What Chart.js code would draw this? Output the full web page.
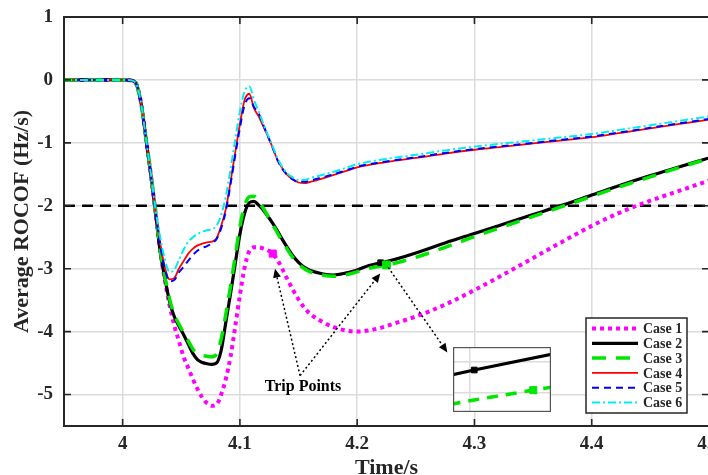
<!DOCTYPE html>
<html>
<head>
<meta charset="utf-8">
<script src="https://cdn.jsdelivr.net/npm/chart.js@4.4.1/dist/chart.umd.min.js"></script>
<style>
  html, body { margin: 0; padding: 0; background: #fff; overflow: hidden; width: 708px; height: 475px; }
  #wrap { position: relative; width: 740px; height: 482px; }
  #main { position: absolute; left: 0; top: 0; }
  #inset { position: absolute; left: 453px; top: 347px; }
</style>
</head>
<body>
<div id="wrap">
  <canvas id="main" width="740" height="482"></canvas>
  <canvas id="inset" width="98" height="65"></canvas>
</div>
<script>
// ---- data -------------------------------------------------------------
const time = [3.95, 4.000, 4.008, 4.012, 4.016, 4.020, 4.024, 4.028, 4.032, 4.036,
              4.040, 4.044, 4.048, 4.052, 4.056, 4.060, 4.064, 4.068, 4.072, 4.076,
              4.080, 4.084, 4.088, 4.092, 4.096, 4.100, 4.104, 4.108, 4.112, 4.116,
              4.120, 4.124, 4.128, 4.132, 4.136, 4.140, 4.145, 4.150, 4.155, 4.160,
              4.170, 4.180, 4.190, 4.200, 4.210, 4.220, 4.230, 4.250, 4.275, 4.300,
              4.325, 4.350, 4.375, 4.400, 4.425, 4.450, 4.475, 4.500];

const case1 = [0, 0, -0.01, -0.08, -0.4, -0.95, -1.5, -2.1, -2.72, -3.18,
               -3.58, -3.9, -4.15, -4.4, -4.58, -4.76, -4.92, -5.05, -5.14, -5.18,
               -5.16, -5.0, -4.75, -4.4, -3.92, -3.42, -2.98, -2.72, -2.66, -2.66,
               -2.68, -2.71, -2.76, -2.86, -3.0, -3.15, -3.33, -3.49, -3.62, -3.72,
               -3.84, -3.93, -3.98, -4.0, -3.98, -3.94, -3.88, -3.76, -3.57, -3.34,
               -3.09, -2.83, -2.57, -2.32, -2.1, -1.92, -1.76, -1.6];

const case2 = [0, 0, -0.01, -0.08, -0.4, -0.95, -1.5, -2.1, -2.72, -3.15,
               -3.52, -3.76, -3.91, -4.05, -4.2, -4.35, -4.45, -4.49, -4.51, -4.52,
               -4.5, -4.3, -3.85, -3.4, -2.92, -2.45, -2.12, -1.95, -1.93, -1.99,
               -2.07, -2.17, -2.28, -2.4, -2.53, -2.65, -2.79, -2.9, -2.98, -3.03,
               -3.08, -3.1, -3.07, -3.02, -2.95, -2.905, -2.863, -2.75, -2.59, -2.44,
               -2.29, -2.14, -1.99, -1.83, -1.67, -1.52, -1.38, -1.24];

const case3 = [0, 0, -0.01, -0.08, -0.4, -0.95, -1.5, -2.1, -2.7, -3.12,
               -3.48, -3.73, -3.88, -4.02, -4.15, -4.28, -4.35, -4.38, -4.39, -4.4,
               -4.36, -4.12, -3.72, -3.28, -2.8, -2.33, -2.0, -1.86, -1.85, -1.93,
               -2.04, -2.17, -2.3, -2.43, -2.56, -2.68, -2.82, -2.93, -3.0, -3.05,
               -3.1, -3.12, -3.1, -3.05, -2.995, -2.957, -2.923, -2.82, -2.66, -2.49,
               -2.33, -2.17, -2.01, -1.85, -1.69, -1.54, -1.39, -1.25];

const case4 = [0, 0, -0.01, -0.08, -0.4, -0.95, -1.5, -2.1, -2.6, -2.98,
               -3.17, -3.15, -3.0, -2.88, -2.76, -2.68, -2.63, -2.6, -2.58, -2.57,
               -2.52, -2.32, -2.05, -1.62, -1.15, -0.7, -0.32, -0.22, -0.45, -0.58,
               -0.74, -0.9, -1.08, -1.27, -1.4, -1.5, -1.58, -1.63, -1.64, -1.62,
               -1.57, -1.51, -1.45, -1.39, -1.35, -1.32, -1.29, -1.24, -1.17, -1.11,
               -1.06, -1.01, -0.96, -0.91, -0.84, -0.77, -0.70, -0.63];

const case5 = [0, 0, -0.01, -0.08, -0.4, -0.95, -1.5, -2.1, -2.62, -3.0,
               -3.2, -3.18, -3.06, -2.97, -2.87, -2.78, -2.71, -2.67, -2.64, -2.6,
               -2.53, -2.36, -2.08, -1.66, -1.2, -0.76, -0.4, -0.29, -0.43, -0.53,
               -0.72, -0.9, -1.08, -1.27, -1.41, -1.5, -1.58, -1.62, -1.62, -1.6,
               -1.55, -1.5, -1.44, -1.38, -1.34, -1.31, -1.28, -1.23, -1.16, -1.1,
               -1.05, -1.0, -0.95, -0.9, -0.83, -0.76, -0.69, -0.62];

const case6 = [0, 0, -0.01, -0.08, -0.4, -0.95, -1.48, -2.05, -2.5, -2.85,
               -3.05, -3.02, -2.86, -2.7, -2.57, -2.5, -2.45, -2.41, -2.39, -2.37,
               -2.32, -2.15, -1.85, -1.42, -0.95, -0.5, -0.18, -0.1, -0.32, -0.5,
               -0.7, -0.88, -1.06, -1.24, -1.38, -1.48, -1.55, -1.59, -1.59, -1.56,
               -1.51, -1.46, -1.4, -1.34, -1.3, -1.27, -1.24, -1.19, -1.12, -1.06,
               -1.01, -0.96, -0.91, -0.86, -0.79, -0.72, -0.65, -0.58];

const caseNames = ['Case 1', 'Case 2', 'Case 3', 'Case 4', 'Case 5', 'Case 6'];

// threshold at -2 Hz/s
const thresholdTime = [3.95, 4.5];
const thresholdValue = [-2, -2];

// trip points: Case 1, Case 2, Case 3
const tripTime = [4.128, 4.22, 4.225];
const tripValue = [-2.76, -2.905, -2.94];

const xTicks = [4, 4.1, 4.2, 4.3, 4.4, 4.5];
const yTicks = [1, 0, -1, -2, -3, -4, -5];

// zoomed view around the Case 2 / Case 3 trip points
const insetRangeX = [4.2182, 4.2265];
const insetRangeY = [-2.978, -2.865];
const insetGridX = [4.2196];
const insetGridY = [-2.891, -2.9452];

// ---- drawing ----------------------------------------------------------
const FONT = "'Liberation Serif', 'Times New Roman', serif";
const INK = '#262626';
const GRID = '#dcdcdc';

const pts = (xs, ys) => xs.map((x, i) => ({ x, y: ys[i] }));
const fmt = v => String(Number(v.toFixed(2)));

const styles = [
  { borderColor: '#ff00ff', borderWidth: 4, borderDash: [4, 4], order: 6 },
  { borderColor: '#000000', borderWidth: 3.2, borderDash: [], order: 5 },
  { borderColor: '#00e600', borderWidth: 3.5, borderDash: [14, 10], order: 4 },
  { borderColor: '#ff0000', borderWidth: 1.8, borderDash: [], order: 3 },
  { borderColor: '#0000ff', borderWidth: 2, borderDash: [7, 5], order: 2 },
  { borderColor: '#00eef0', borderWidth: 2, borderDash: [8, 3, 2, 3], order: 1 }
];
const caseValues = [case1, case2, case3, case4, case5, case6];

const caseSets = caseValues.map((vals, i) => Object.assign({
  label: caseNames[i],
  data: pts(time, vals),
  pointRadius: 0,
  fill: false,
  cubicInterpolationMode: 'monotone',
  isCase: true
}, styles[i]));

const tripSet = {
  label: 'Trip points',
  data: pts(tripTime, tripValue),
  showLine: false,
  pointStyle: 'rect',
  pointRadius: [5, 4, 5.5],
  backgroundColor: ['#ff00ff', '#000000', '#00e600'],
  borderColor: ['#ff00ff', '#000000', '#00e600'],
  order: 0
};

const thresholdSet = {
  label: 'Threshold',
  data: pts(thresholdTime, thresholdValue),
  borderColor: '#000000',
  borderWidth: 2.5,
  borderDash: [11, 7],
  pointRadius: 0,
  order: 7
};

// axes box with inward ticks on all four sides
const framePlugin = {
  id: 'frame',
  afterDatasetsDraw(chart) {
    const { ctx, chartArea: a, scales: { x, y } } = chart;
    const L = 7;
    ctx.save();
    ctx.strokeStyle = INK;
    ctx.lineWidth = 1.6;
    ctx.beginPath();
    xTicks.forEach(v => {
      const px = x.getPixelForValue(v);
      ctx.moveTo(px, a.bottom); ctx.lineTo(px, a.bottom - L);
      ctx.moveTo(px, a.top); ctx.lineTo(px, a.top + L);
    });
    yTicks.forEach(v => {
      const py = y.getPixelForValue(v);
      ctx.moveTo(a.left, py); ctx.lineTo(a.left + L, py);
      ctx.moveTo(a.right, py); ctx.lineTo(a.right - L, py);
    });
    ctx.stroke();
    ctx.lineWidth = 2;
    ctx.strokeRect(a.left, a.top, a.right - a.left, a.bottom - a.top);
    ctx.restore();
  }
};

function dottedArrow(ctx, x0, y0, x1, y1) {
  const ang = Math.atan2(y1 - y0, x1 - x0);
  const head = 9, w = 4;
  const bx = x1 - head * Math.cos(ang), by = y1 - head * Math.sin(ang);
  ctx.setLineDash([2, 2.5]);
  ctx.beginPath(); ctx.moveTo(x0, y0); ctx.lineTo(bx, by); ctx.stroke();
  ctx.setLineDash([]);
  ctx.beginPath();
  ctx.moveTo(x1, y1);
  ctx.lineTo(bx + w * Math.sin(ang), by - w * Math.cos(ang));
  ctx.lineTo(bx - w * Math.sin(ang), by + w * Math.cos(ang));
  ctx.closePath(); ctx.fill();
}

// "Trip Points" callout, arrow towards the zoom box, and the legend
const notesPlugin = {
  id: 'notes',
  afterDraw(chart) {
    const { ctx, scales: { x, y }, chartArea: a } = chart;
    const P = (tx, ty) => [x.getPixelForValue(tx), y.getPixelForValue(ty)];
    ctx.save();
    ctx.strokeStyle = '#000';
    ctx.fillStyle = '#000';
    ctx.lineWidth = 1.5;

    const [sx, sy] = P(4.1513, -4.70);
    const [m1x, m1y] = P(4.1299, -3.0);
    const [m2x, m2y] = P(4.2197, -3.076);
    dottedArrow(ctx, sx, sy, m1x, m1y);
    dottedArrow(ctx, sx, sy, m2x, m2y);

    const [gx, gy] = P(4.2265, -2.98);
    const [ex, ey] = P(4.2769, -4.33);
    dottedArrow(ctx, gx, gy, ex, ey);

    const [tx, ty] = P(4.1538, -4.873);
    ctx.font = `bold 16px ${FONT}`;
    ctx.textAlign = 'center';
    ctx.textBaseline = 'middle';
    ctx.fillText('Trip Points', tx, ty);

    // legend
    const box = { left: a.right - 123, top: a.bottom - 108, w: 101, h: 95 };
    ctx.fillStyle = '#fff';
    ctx.fillRect(box.left, box.top, box.w, box.h);
    ctx.strokeStyle = INK;
    ctx.lineWidth = 1.5;
    ctx.setLineDash([]);
    ctx.strokeRect(box.left, box.top, box.w, box.h);
    const sets = chart.data.datasets.filter(d => d.isCase);
    ctx.font = `bold 14px ${FONT}`;
    ctx.textAlign = 'left';
    sets.forEach((d, i) => {
      const cy = box.top + 10.5 + i * 14.8;
      ctx.strokeStyle = d.borderColor;
      ctx.lineWidth = d.borderWidth;
      ctx.setLineDash(d.borderDash || []);
      ctx.beginPath();
      ctx.moveTo(box.left + 6, cy);
      ctx.lineTo(box.left + 52, cy);
      ctx.stroke();
      ctx.fillStyle = INK;
      ctx.fillText(d.label, box.left + 57, cy + 1);
    });
    ctx.restore();
  }
};

new Chart(document.getElementById('main'), {
  type: 'line',
  data: { datasets: [tripSet, ...caseSets, thresholdSet] },
  options: {
    responsive: false,
    animation: false,
    devicePixelRatio: 1,
    layout: { padding: { left: 0, top: 17, right: 31, bottom: 0 } },
    plugins: { legend: { display: false }, tooltip: { enabled: false } },
    scales: {
      x: {
        type: 'linear', min: 3.95, max: 4.5,
        afterBuildTicks: s => { s.ticks = xTicks.map(v => ({ value: v })); },
        afterFit: s => { s.height = 56; },
        grid: { color: GRID, lineWidth: 1.5, drawTicks: false },
        border: { display: false },
        ticks: {
          padding: 7, color: INK, maxRotation: 0, autoSkip: false,
          font: { family: FONT, size: 19, weight: 'bold' },
          callback: v => fmt(v)
        },
        title: {
          display: true, text: 'Time/s', color: INK,
          font: { family: FONT, size: 22, weight: 'bold' },
          padding: { top: 0, bottom: 0 }
        }
      },
      y: {
        type: 'linear', min: -5.5, max: 1,
        afterBuildTicks: s => { s.ticks = yTicks.map(v => ({ value: v })); },
        afterFit: s => { s.width = 64; s.paddingTop = 4; s.paddingBottom = 4; },
        grid: { color: GRID, lineWidth: 1.5, drawTicks: false },
        border: { display: false },
        ticks: {
          padding: 11, color: INK,
          font: { family: FONT, size: 19, weight: 'bold' },
          callback: v => fmt(v)
        },
        title: {
          display: true, text: 'Average ROCOF (Hz/s)', color: INK,
          font: { family: FONT, size: 22, weight: 'bold' },
          padding: { top: 9, bottom: 0 }
        }
      }
    }
  },
  plugins: [framePlugin, notesPlugin]
});

// zoom box
const insetFrame = {
  id: 'insetFrame',
  beforeDraw(chart) {
    const { ctx, width, height } = chart;
    ctx.save();
    ctx.fillStyle = '#fff';
    ctx.fillRect(0, 0, width, height);
    ctx.restore();
  },
  afterDraw(chart) {
    const { ctx, width, height } = chart;
    ctx.save();
    ctx.strokeStyle = '#555';
    ctx.lineWidth = 1.2;
    ctx.strokeRect(0.6, 0.6, width - 1.2, height - 1.2);
    ctx.restore();
  }
};

const flatScale = (range, grid, horizontal) => ({
  type: 'linear', min: range[0], max: range[1],
  afterBuildTicks: s => { s.ticks = grid.map(v => ({ value: v })); },
  afterFit: s => {
    if (horizontal) { s.height = 0; } else { s.width = 0; }
    s.paddingLeft = 0; s.paddingRight = 0; s.paddingTop = 0; s.paddingBottom = 0;
  },
  ticks: { display: false },
  grid: { color: GRID, lineWidth: 1.5, drawTicks: false },
  border: { display: false }
});

new Chart(document.getElementById('inset'), {
  type: 'line',
  data: {
    datasets: [
      {
        data: pts(tripTime.slice(1), tripValue.slice(1)),
        showLine: false, pointStyle: 'rect', pointRadius: [4, 5],
        backgroundColor: ['#000000', '#00e600'],
        borderColor: ['#000000', '#00e600'],
        order: 0
      },
      Object.assign({ data: pts(time, case3), pointRadius: 0 }, styles[2], { borderDash: [11, 8], order: 1 }),
      Object.assign({ data: pts(time, case2), pointRadius: 0 }, styles[1], { order: 2 })
    ]
  },
  options: {
    responsive: false,
    animation: false,
    devicePixelRatio: 1,
    layout: { padding: 0, autoPadding: false },
    plugins: { legend: { display: false }, tooltip: { enabled: false } },
    scales: {
      x: flatScale(insetRangeX, insetGridX, true),
      y: flatScale(insetRangeY, insetGridY, false)
    }
  },
  plugins: [insetFrame]
});
</script>
</body>
</html>
